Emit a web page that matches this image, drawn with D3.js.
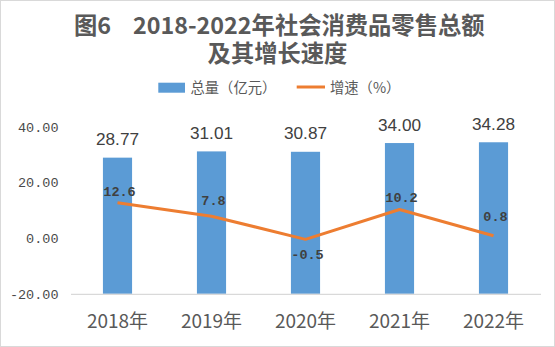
<!DOCTYPE html>
<html><head><meta charset="utf-8">
<script src="https://cdn.jsdelivr.net/npm/d3@7"></script>
<style>html,body{margin:0;padding:0;background:#fff;}svg{display:block;}</style>
</head><body>
<script>
const categories = ["2018年","2019年","2020年","2021年","2022年"];
const totals = [28.77, 31.01, 30.87, 34.00, 34.28];
const totalLabels = ["28.77","31.01","30.87","34.00","34.28"];
const growth = [12.6, 7.8, -0.5, 10.2, 0.8];
const growthLabels = ["12.6","7.8","-0.5","10.2","0.8"];
const yTicks = [-20, 0, 20, 40];
const yTickLabels = ["-20.00","0.00","20.00","40.00"];
const growthLabelDy = [-6.5, -11.5, 20, -7.5, -14.5];

const W = 555, H = 347;
const svg = d3.select("body").append("svg").attr("width", W).attr("height", H);
svg.append("rect").attr("x",0.5).attr("y",0.5).attr("width",W-1).attr("height",H-1)
  .attr("fill","#fff").attr("stroke","#d9d9d9");

const x = d3.scaleBand().domain(categories).range([70.5, 540.5]).paddingInner(0.69).paddingOuter(0.345);
const y = d3.scaleLinear().domain([-20, 40]).range([293.8, 126.3]);

const txt = "#595959";
// title
const tf = (s) => s.attr("font-family","'Noto Sans CJK SC'").attr("font-weight","bold").attr("font-size",23.3).attr("fill",txt);
svg.append("text").attr("x", 74).attr("y", 34).call(tf).text("图6");
svg.append("text").attr("x", 133).attr("y", 34).call(tf).text("2018-2022年社会消费品零售总额");
svg.append("text").attr("x", 277.5).attr("y", 62).attr("text-anchor","middle").call(tf).text("及其增长速度");

// legend
const lg = svg.append("g");
lg.append("rect").attr("x",158.3).attr("y",82.7).attr("width",26.7).attr("height",10).attr("fill","#5B9BD5");
lg.append("text").attr("x",190.5).attr("y",93).attr("font-family","'Noto Sans CJK SC'").attr("font-size",14.3)
  .attr("fill",txt).text("总量（亿元）");
lg.append("line").attr("x1",296.7).attr("x2",325).attr("y1",87).attr("y2",87).attr("stroke","#ED7D31").attr("stroke-width",3);
lg.append("text").attr("x",330).attr("y",93).attr("font-family","'Noto Sans CJK SC'").attr("font-size",14.3)
  .attr("fill",txt).text("增速（%）");

// y axis (no line, labels only)
const yAxis = d3.axisLeft(y).tickValues(yTicks).tickSize(0).tickPadding(0)
  .tickFormat((d,i)=>yTickLabels[i]);
const ya = svg.append("g").attr("transform","translate(58.5,0)").call(yAxis);
ya.select(".domain").remove();
ya.selectAll("text").attr("font-family","'Liberation Mono'").attr("font-size",13.5).attr("fill","#4a4a4a").attr("dy","0.35em");

// bars
svg.append("g").selectAll("rect").data(totals).join("rect")
  .attr("x",(d,i)=>x(categories[i])).attr("width",x.bandwidth())
  .attr("y",d=>y(d)).attr("height",d=>y(-20)-y(d)).attr("fill","#5B9BD5");

// x axis
const xAxis = d3.axisBottom(x).tickSize(0).tickPadding(0);
const xa = svg.append("g").attr("transform",`translate(0,${y(-20)})`).call(xAxis);
xa.select(".domain").attr("stroke","#d9d9d9").attr("stroke-width",1.2);
xa.selectAll("text").attr("font-family","'Noto Sans CJK SC'").attr("font-size",19).attr("fill",txt)
  .attr("dy",null).attr("y",34);

// bar labels
svg.append("g").selectAll("text").data(totals).join("text")
  .attr("x",(d,i)=>x(categories[i])+x.bandwidth()/2).attr("y",d=>y(d)-12.5)
  .attr("text-anchor","middle").attr("font-family","'Liberation Sans'").attr("font-size",17.2)
  .attr("fill","#404040").text((d,i)=>totalLabels[i]);

// line
const line = d3.line().x((d,i)=>x(categories[i])+x.bandwidth()/2).y(d=>y(d));
svg.append("path").datum(growth).attr("d",line).attr("fill","none")
  .attr("stroke","#ED7D31").attr("stroke-width",3).attr("stroke-linejoin","round");

// line labels
svg.append("g").selectAll("text").data(growth).join("text")
  .attr("x",(d,i)=>x(categories[i])+x.bandwidth()/2+2).attr("y",(d,i)=>y(d)+growthLabelDy[i])
  .attr("text-anchor","middle").attr("font-family","'Liberation Mono'").attr("font-size",13.5)
  .attr("font-weight","bold").attr("fill","#404040").text((d,i)=>growthLabels[i]);
</script>
</body></html>
